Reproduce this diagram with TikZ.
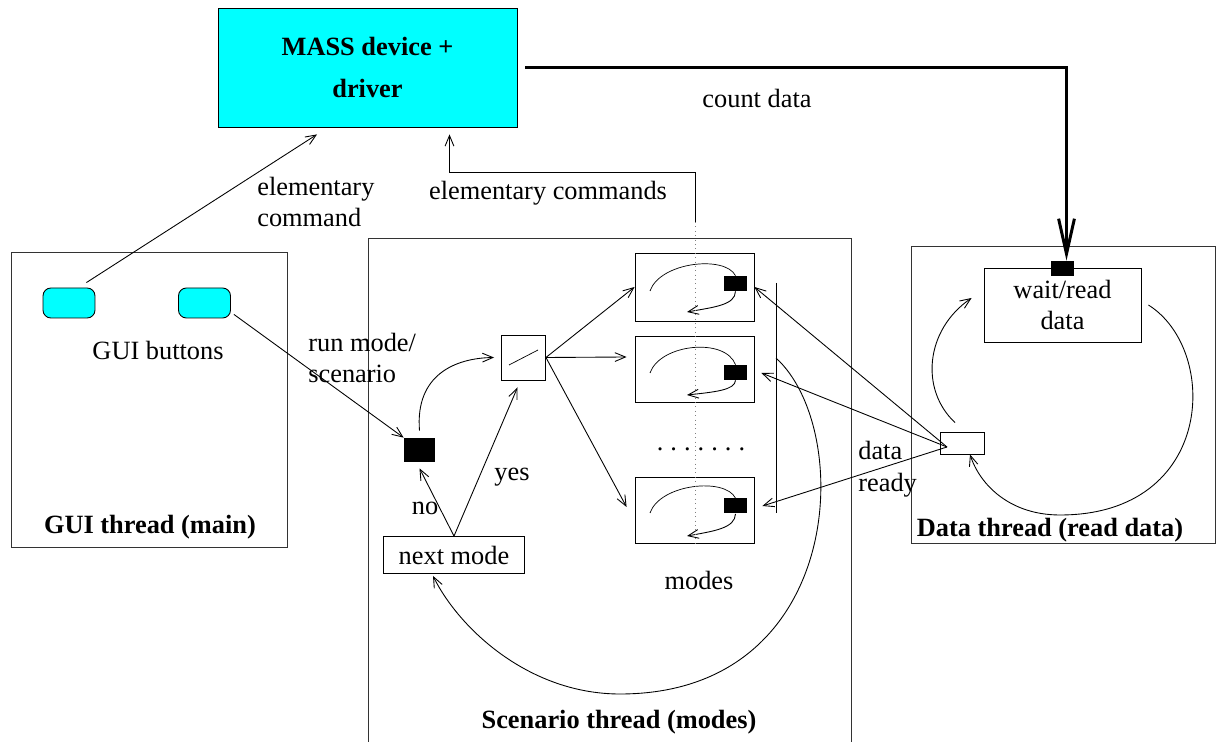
\documentclass[tikz,border=0pt]{standalone}
\usepackage{fontspec}
\setmainfont{Liberation Serif}
\usetikzlibrary{positioning, calc, arrows.meta}
\definecolor{Cyan}{HTML}{00FFFF}
\definecolor{Frame}{HTML}{333333}
\tikzset{
    box/.style={rectangle, draw=black, line width=0.5pt, inner sep=0pt},
    blk/.style={rectangle, fill=black, inner sep=0pt},
    lbl/.style={font=\fontsize{15}{18}\selectfont, align=left, inner sep=0pt},
    title/.style={font=\fontsize{15}{18}\selectfont\bfseries, inner sep=0pt},
    arr/.style={-{Straight Barb[length=6pt,width=5pt]}, line width=0.5pt},
}
\begin{document}
\begin{tikzpicture}[
        x=0.02cm, y=-0.02cm,
        % thread frames
        thread/.style={box, draw=Frame},
        % GUI buttons
        button/.style={box, fill=Cyan, rounded corners=4.5pt, minimum width=1.04cm, minimum height=0.6cm},
        % one mode of the scenario
        modebox/.style={box, minimum width=2.38cm},
        modeblk/.style={blk, minimum width=0.46cm, minimum height=0.3cm},
        % thick data arrow
        thickarr/.style={-{Straight Barb[length=20pt,width=9pt]}, line width=1.7pt}
    ]
    \useasboundingbox (0,0) rectangle (1221,742);

    % --- 1. Device and driver
    \node[box, fill=Cyan, minimum width=5.98cm, minimum height=2.38cm, title, align=center] (mass) at (367.5,67.5)
        {MASS device +\\[6pt]driver};

    % --- 2. GUI thread
    \node[thread, minimum width=5.52cm, minimum height=5.9cm] (gui) at (149,399.5) {};
    \node[title] (guilbl) at (150,527) {GUI thread (main)};
    \node[button] (b1) at (69,303) {};
    \node[button] (b2) at (204.5,303) {};
    \node[lbl] (btnlbl) at (158,350) {GUI buttons};

    \draw[arr] ([xshift=-0.18cm,yshift=0.1cm]b1.north east) -- ([xshift=-1.01cm,yshift=-0.14cm]mass.south);
    \node[lbl, anchor=west] (eclbl) at (257,202) {elementary\\command};

    % --- 3. Scenario thread
    \node[thread, minimum width=9.66cm, minimum height=10.44cm] (scen) at (609.5,499) {};
    \node[title] (scenlbl) at (619,722) {Scenario thread (modes)};

    \node[blk, minimum width=0.62cm, minimum height=0.48cm] (start) at (419.5,450) {};
    \node[box, minimum width=0.88cm, minimum height=0.9cm] (sw) at (523.5,357.5) {};
    \draw (509,365) -- (538,350);
    \node[box, lbl, minimum width=2.82cm, minimum height=0.74cm] (nm) at (454,555) {next mode};

    \draw[arr] ([xshift=0.06cm,yshift=0.08cm]b2.south east) -- (start.north west);
    \node[lbl, anchor=west] (runlbl) at (308,358) {run mode/\\scenario};

    \draw[arr] ([yshift=0.14cm]start.north) .. controls (415,375) and (455,358) .. ([xshift=-0.14cm]sw.west);
    \draw[arr] (nm.north) -- ([yshift=-0.12cm]start.south);
    \draw[arr] (nm.north) -- ([xshift=-0.12cm,yshift=-0.14cm]sw.south);
    \node[lbl] (nolbl) at (425,508) {no};
    \node[lbl] (yeslbl) at (512,477) {yes};

    % modes
    \node[modebox, minimum height=1.36cm] (m1) at (694.5,287) {};
    \node[modebox, minimum height=1.32cm] (m2) at (694.5,369) {};
    \node[modebox, minimum height=1.32cm] (m3) at (694.5,510) {};
    \node[modeblk] (m1blk) at (735.5,283.5) {};
    \node[modeblk] (m2blk) at (735.5,372.5) {};
    \node[modeblk] (m3blk) at (735.5,506) {};

    \draw (650,291) .. controls (660,262) and (725,255) .. (m1blk.north);
    \draw[arr] (m1blk.south) .. controls (735,305) and (715,307) .. (687,312);
    \draw (650,373) .. controls (660,344) and (725,337) .. (m2blk.north);
    \draw[arr] (m2blk.south) .. controls (735,390) and (715,392) .. (687,395);
    \draw (650,513) .. controls (660,484) and (725,477) .. (m3blk.north);
    \draw[arr] (m3blk.south) .. controls (735,528) and (715,531) .. (687,536);

    \draw[arr] (sw.east) -- (m1.west);
    \draw[arr] (sw.east) -- ([xshift=-0.16cm,yshift=0.24cm]m2.west);
    \draw[arr] (sw.east) -- ([xshift=-0.16cm,yshift=0.06cm]m3.west);

    \node[lbl] (dots) at (701,449) {.\hspace{4pt}.\hspace{4pt}.\hspace{4pt}.\hspace{4pt}.\hspace{4pt}.\hspace{4pt}.};
    \node[lbl] (modeslbl) at (699,580) {modes};

    % bar collecting the modes, and loop back to next mode
    \coordinate (bartop) at (776,283);
    \coordinate (barbot) at (776,513);
    \coordinate (barmid) at (776,358);
    \draw (bartop) -- (barbot);
    \draw[arr] (barmid) .. controls (855,430) and (845,694) .. (620,694)
        .. controls (530,694) and (460,630) .. ([xshift=-0.42cm,yshift=-0.04cm]nm.south);

    % elementary commands from the modes
    \coordinate (ectop) at (695,222);
    \coordinate (ecbot) at (695,545);
    \draw[arr] (ectop) -- (695,172) -| ([xshift=1.64cm,yshift=-0.14cm]mass.south);
    \draw[dotted, line width=0.5pt, gray] (ectop) -- (ecbot);
    \node[lbl] (ecslbl) at (548,193) {elementary commands};

    % --- 4. Data thread
    \node[thread, minimum width=6.08cm, minimum height=5.94cm] (data) at (1063,394.5) {};
    \node[title] (datalbl) at (1050,530) {Data thread (read data)};
    \node[box, lbl, align=center, minimum width=3.14cm, minimum height=1.48cm] (wr) at (1062.5,305)
        {wait/read\\data};
    \node[modeblk] (dblk) at (1062.5,268.5) {};
    \node[box, minimum width=0.88cm, minimum height=0.44cm] (drbox) at (962,443) {};
    \coordinate (dr) at (947,447);

    \draw[arr] (dr) -- (m1.east);
    \draw[arr] (dr) -- ([xshift=0.14cm,yshift=-0.08cm]m2.east);
    \draw[arr] (dr) -- ([xshift=0.16cm,yshift=0.08cm]m3.east);
    \node[lbl, anchor=west] (drlbl) at (858,469) {data\\ready};

    \draw[arr] ([xshift=0.14cm]wr.east) .. controls (1220,350) and (1215,515) .. (1060,515)
        .. controls (1010,515) and (980,485) .. ([xshift=0.16cm]drbox.south);
    \draw[arr] ([xshift=-0.14cm,yshift=0.18cm]drbox.north) .. controls (920,390) and (925,330)
        .. ([xshift=-0.24cm,yshift=0.14cm]wr.west);

    % --- 5. Count data to the data thread
    \draw[thickarr] ([xshift=0.16cm]mass.east) -| ([xshift=0.08cm]dblk.north);
    \node[lbl] (cdlbl) at (757,98) {count data};

\end{tikzpicture}
\end{document}
